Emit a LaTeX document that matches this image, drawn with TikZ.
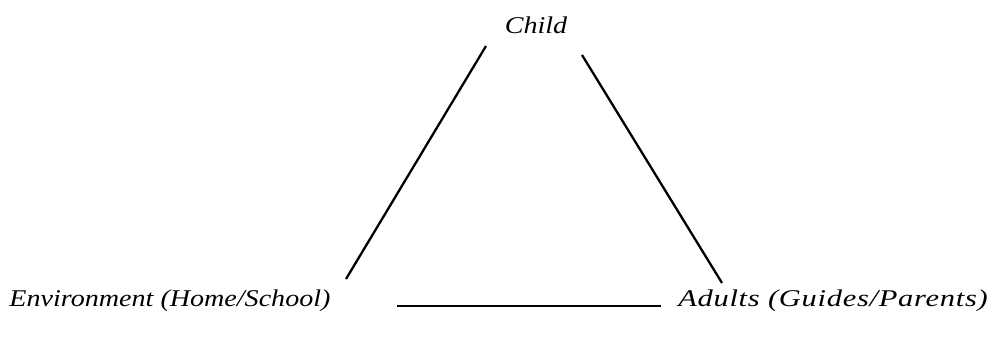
\documentclass[tikz,border=0pt]{standalone}
\usepackage{fontspec}
\setmainfont{Liberation Serif}
\newfontfamily\lblfont[FakeStretch=1.17]{Liberation Serif}
\newfontfamily\lblwidefont[FakeStretch=1.27,LetterSpace=3]{Liberation Serif}
\begin{document}
\begin{tikzpicture}[x=1pt,y=1pt,
  lbl/.style={font=\lblfont\itshape\fontsize{24}{28}\selectfont, inner sep=0pt},
  lblw/.style={font=\lblwidefont\itshape\fontsize{24}{28}\selectfont, inner sep=0pt},
  edge/.style={line width=2.3pt, black}]
\useasboundingbox (0,0) rectangle (1003,343);
\node[lbl] (child) at (536,318) {Child};
\node[lbl] (env) at (170,42) {Environment (Home/School)};
\node[lblw] (adults) at (833,42) {Adults (Guides/Parents)};
\coordinate (l1) at (486,297);
\coordinate (l2) at (346,64);
\coordinate (r1) at (582,288);
\coordinate (r2) at (722,60);
\coordinate (b1) at (397,37);
\coordinate (b2) at (661,37);
\draw[edge] (l1) -- (l2);
\draw[edge] (r1) -- (r2);
\draw[edge] (b1) -- (b2);
\end{tikzpicture}
\end{document}
